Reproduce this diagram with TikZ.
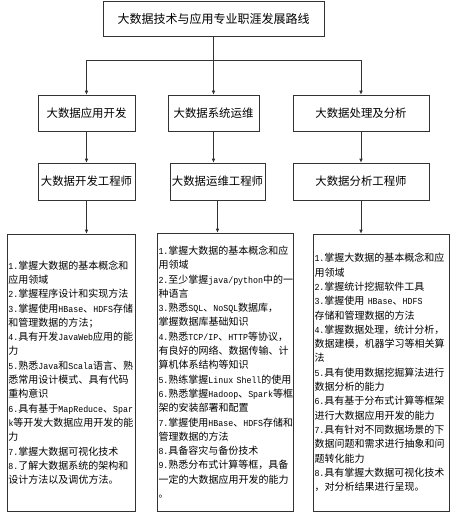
\documentclass[tikz,border=0pt]{standalone}
\usepackage{fontspec}
\setmainfont{Noto Sans CJK SC}
\newfontfamily\enfont{Liberation Mono}[Scale=0.92,FakeStretch=0.9]
\newcommand{\en}[1]{{\enfont #1}}
\usepackage{tikz}
\usetikzlibrary{arrows.meta}

\begin{document}
\begin{tikzpicture}[x=1pt,y=-1pt,
    box/.style={draw=black!80, line width=0.6pt, minimum height=36pt, inner sep=0pt, font=\fontsize{11.4}{13}\selectfont},
    listbox/.style={draw=black!80, line width=0.6pt, inner xsep=1.5pt, inner ysep=0pt, align=left, font=\fontsize{10}{14.3}\selectfont},
    arr/.style={draw=black!80, line width=0.6pt, -{Latex[length=4pt,width=3.5pt]}}]
    \useasboundingbox (0,0) rectangle (457,513);
    \node[box, minimum width=221pt, minimum height=35pt, font=\fontsize{12}{14}\selectfont] (top) at (213.5,18.5) {大数据技术与应用专业职涯发展路线};
    \coordinate (split) at (213.5,60);
    \node[box, minimum width=97pt] (appdev) at (86.5,113) {大数据应用开发};
    \node[box, minimum width=91pt] (sysops) at (213.5,113) {大数据系统运维};
    \node[box, minimum width=136pt] (dataproc) at (361,113) {大数据处理及分析};
    \node[box, minimum width=97pt, minimum height=37pt] (deveng) at (86.5,181.5) {大数据开发工程师};
    \node[box, minimum width=95pt, minimum height=37pt] (opseng) at (217.5,181.5) {大数据运维工程师};
    \node[box, minimum width=136pt, minimum height=37pt] (anaeng) at (361,181.5) {大数据分析工程师};
    \node[listbox, text width=125pt, minimum height=277pt] (devskill) at (71,372.5) {%
    \en{1.}掌握大数据的基本概念和\\
    应用领域\\
    \en{2.}掌握程序设计和实现方法\\
    \en{3.}掌握使用\en{HBase}、\en{HDFS}存储\\
    和管理数据的方法；\\
    \en{4.}具有开发\en{JavaWeb}应用的能\\
    力\\
    \en{5.}熟悉\en{Java}和\en{Scala}语言、熟\\
    悉常用设计模式、具有代码\\
    重构意识\\
    \en{6.}具有基于\en{MapReduce}、\en{Spar}\\
    \en{k}等开发大数据应用开发的能\\
    力\\
    \en{7.}掌握大数据可视化技术\\
    \en{8.}了解大数据系统的架构和\\
    设计方法以及调优方法。};
    \node[listbox, text width=133pt, minimum height=278pt] (opsskill) at (225,372) {%
    \en{1.}掌握大数据的基本概念和应\\
    用领域\\
    \en{2.}至少掌握\en{java/python}中的一\\
    种语言\\
    \en{3.}熟悉\en{SQL}、\en{NoSQL}数据库，\\
    掌握数据库基础知识\\
    \en{4.}熟悉\en{TCP/IP}、\en{HTTP}等协议，\\
    有良好的网络、数据传输、计\\
    算机体系结构等知识\\
    \en{5.}熟练掌握\en{Linux~Shell}的使用\\
    \en{6.}熟悉掌握\en{Hadoop}、\en{Spark}等框\\
    架的安装部署和配置\\
    \en{7.}掌握使用\en{HBase}、\en{HDFS}存储和\\
    管理数据的方法\\
    \en{8.}具备容灾与备份技术\\
    \en{9.}熟悉分布式计算等框，具备\\
    一定的大数据应用开发的能力\\
    。};
    \node[listbox, text width=133pt, minimum height=277pt] (anaskill) at (381,372.5) {%
    \en{1.}掌握大数据的基本概念和应\\
    用领域\\
    \en{2.}掌握统计挖掘软件工具\\
    \en{3.}掌握使用\en{~HBase}、\en{HDFS}\\
    存储和管理数据的方法\\
    \en{4.}掌握数据处理，统计分析，\\
    数据建模，机器学习等相关算\\
    法\\
    \en{5.}具有使用数据挖掘算法进行\\
    数据分析的能力\\
    \en{6.}具有基于分布式计算等框架\\
    进行大数据应用开发的能力\\
    \en{7.}具有针对不同数据场景的下\\
    数据问题和需求进行抽象和问\\
    题转化能力\\
    \en{8.}具有掌握大数据可视化技术\\
    ，对分析结果进行呈现。};
    \draw[draw=black!80, line width=0.6pt] (top.south) -- (split);
    \draw[arr] (split) -| (appdev.north);
    \draw[arr] (split) -| (dataproc.north);
    \draw[arr] (split) -- (sysops.north);
    \draw[arr] (appdev) -- (deveng);
    \draw[arr] (sysops.south) -- (sysops.south |- opseng.north);
    \draw[arr] (dataproc) -- (anaeng);
    \draw[arr] (deveng.south) -- (deveng.south |- devskill.north);
    \draw[arr] (opseng.south) -- (opseng.south |- opsskill.north);
    \draw[arr] (anaeng.south) -- (anaeng.south |- anaskill.north);
\end{tikzpicture}
\end{document}
